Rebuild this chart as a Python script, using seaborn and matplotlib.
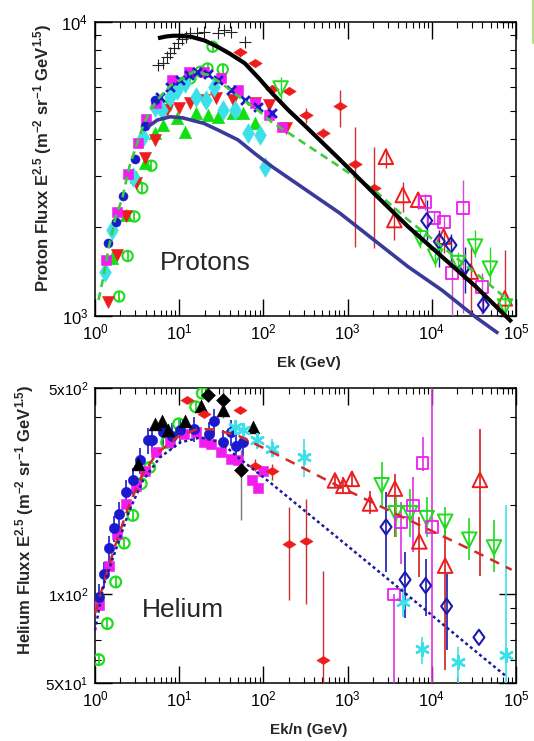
import numpy as np
import pandas as pd
import matplotlib
matplotlib.use("Agg")
import matplotlib.pyplot as plt
from matplotlib.path import Path
from matplotlib.lines import Line2D
from matplotlib.ticker import FixedLocator, FixedFormatter, LogLocator, NullFormatter
import seaborn as sns

# ---------------------------------------------------------------- data
XTICKS = [1, 10, 100, 1000, 10000, 100000]
XTICK_LABELS = [r"$10^{0}$", r"$10^{1}$", r"$10^{2}$", r"$10^{3}$", r"$10^{4}$", r"$10^{5}$"]
P_YTICKS = [1000, 10000]
P_YTICK_LABELS = [r"$10^{3}$", r"$10^{4}$"]
H_YTICKS = [50, 100, 500]
H_YTICK_LABELS = [r"5X10$^{1}$", r"1x10$^{2}$", r"5x10$^{2}$"]

# ---- Protons: model curves
p_black_x = [5.6, 7.0, 8.5, 10.3, 14, 20, 28.5, 40, 60, 90, 127, 200, 320, 813, 2057, 5210, 13200, 33400, 88900]
p_black_y = [8810, 8930, 8980, 8980, 8900, 8650, 8240, 7800, 7240, 6400, 5720, 5000, 4405, 3400, 2612, 2015, 1591, 1258, 955]
p_navy_x = [4.26, 5.5, 7.8, 11, 19.7, 30, 50, 80, 127, 320, 813, 2057, 5210, 13200, 33400, 61600]
p_navy_y = [4405, 4640, 4760, 4720, 4520, 4270, 3970, 3560, 3220, 2685, 2235, 1814, 1472, 1224, 990, 873]
p_gdash_x = [1.10, 1.215, 1.45, 1.76, 2.1, 2.56, 3.1, 3.7, 4.5, 5.9, 8, 10.3, 14.9, 22, 32, 50, 90, 127, 200, 813, 2057, 5210, 13200, 33400, 84600]
p_gdash_y = [1134, 1292, 1700, 2180, 2500, 3220, 3800, 4405, 5000, 5570, 6100, 6350, 6780, 6610, 6180, 5600, 4960, 4550, 4190, 3213, 2685, 2124, 1722, 1397, 1120]

# ---- Protons: measurements
p_plus_x = [5.6, 6.4, 7.1, 7.8, 8.6, 9.6, 10.8, 12.2, 13.6, 16.4, 19.7, 28.6, 34.5, 41.5, 60]
p_plus_y = [7140, 7230, 7620, 7820, 8130, 8460, 8730, 8910, 9140, 9140, 9270, 9140, 9390, 9270, 8570]

p_reddmd_x = [52.4, 79.6, 127, 201, 321, 510, 812, 1234, 2056]
p_reddmd_y = [7890, 7230, 5900, 5840, 4830, 4180, 5180, 3280, 2720]
p_reddmd_lo = [7620, 7050, 5650, 5690, 4520, 4020, 4400, 1722, 1700]
p_reddmd_hi = [8130, 7430, 6110, 5990, 5080, 4350, 5870, 4400, 3770]

p_redtri_x = [2845, 3590, 4530, 6880, 13800, 29000, 73600]
p_redtri_y = [3480, 2120, 2580, 2485, 1862, 1416, 1148]
p_redtri_lo = [3180, 1813, 2260, 2320, 1635, 990, 990]
p_redtri_hi = [3720, 2355, 2860, 2610, 2015, 1722, 1677]

p_magsq_x = [8280, 10700, 13800, 17200, 23700, 39100]
p_magsq_y = [2450, 2148, 2093, 1396, 2323, 1259]
p_magsq_lo = [2300, 2050, 1990, 990, 1023, 990]
p_magsq_hi = [2600, 2250, 2200, 1575, 2900, 1400]

p_bldmd_x = [8700, 12300, 16900, 24800, 40900]
p_bldmd_y = [2109, 1791, 1742, 1472, 1090]
p_bldmd_lo = [1815, 1470, 1540, 1200, 1030]
p_bldmd_hi = [2485, 1960, 1900, 1722, 1200]

p_grninv_x = [160, 7240, 11000, 20600, 32600, 49000, 74000]
p_grninv_y = [5940, 1837, 1592, 1513, 1722, 1449, 1077]
p_grninv_lo = [5430, 1700, 1472, 1400, 1592, 1291, 1021]
p_grninv_hi = [6480, 1980, 1722, 1650, 1960, 1720, 1195]

p_bcirc_x = [1.44, 1.76, 2.18, 2.99, 3.88, 5.13]
p_bcirc_y = [1770, 2095, 2565, 3420, 4440, 5430]
p_bx_x = [5.9, 7.8, 10.3, 13, 16.4, 21.7, 28.6, 41.5, 60, 87, 127]
p_bx_y = [5570, 6030, 6350, 6610, 6780, 6680, 6350, 5870, 5430, 5150, 4890]
p_mag_x = [1.36, 1.85, 2.49, 3.22, 4.07, 5.37, 8.17, 13.0, 19.7, 31.4, 50, 79.6, 115, 167]
p_mag_y = [1550, 2260, 3040, 3890, 4680, 5290, 6350, 6780, 6780, 6430, 5870, 5290, 4830, 4400]
p_cyan_x = [1.31, 1.61, 2.81, 3.71, 5.13, 6.18, 7.8, 9.39, 11.8, 15.7, 20.7, 26.1, 32.9, 45.6, 66.1, 91.5, 105]
p_cyan_y = [1415, 1960, 2980, 4075, 5150, 5020, 5570, 5870, 6180, 5570, 5430, 6030, 5020, 5020, 4180, 4130, 3220]
p_redinv_x = [1.44, 1.85, 2.33, 3.08, 3.88, 5.13, 7.1, 9.84, 13.6, 19.7, 27.3, 43.5, 79.6, 115, 184]
p_redinv_y = [1120, 1610, 2180, 2830, 3440, 3970, 5020, 5080, 5290, 5430, 5500, 5430, 5290, 5220, 4350]
p_gtri_x = [1.61, 2.33, 3.08, 3.88, 5.13, 6.47, 9.39, 11.8, 15.7, 21.7, 28.6, 43.5, 57.5, 79.6]
p_gtri_y = [1570, 2210, 2980, 3310, 4180, 4460, 4700, 4240, 4890, 4830, 4760, 4890, 4890, 4520]
p_gcirc_x = [1.94, 2.44, 2.94, 3.64, 4.68, 7.1, 10.3, 13.6, 18, 21.7, 32.9, 24.9]
p_gcirc_y = [1165, 1600, 2180, 2720, 3245, 5150, 6180, 6430, 6780, 6950, 6900, 8240]

# ---- Helium: model curves
h_rdash_x = [1.0, 1.33, 1.76, 2.56, 3.71, 5.37, 9.39, 16.4, 25, 50, 127, 813, 5210, 33400, 88700]
h_rdash_y = [86, 114, 148, 202, 256, 299, 340, 363, 362, 345, 303, 231, 179, 139, 121]
h_bdot_x = [1.0, 1.27, 1.76, 2.56, 3.71, 5.9, 10.3, 18, 31.4, 50, 127, 813, 5210, 13200, 33400, 77500]
h_bdot_y = [75.4, 108, 141, 192, 243, 291, 327, 340, 327, 291, 236, 153, 99, 79.5, 63.9, 52.5]

# ---- Helium: measurements
h_gcirc_x = [1.107, 1.40, 1.76, 2.22, 2.81, 3.54, 4.47, 7.1, 9.84, 15.7, 18.8]
h_gcirc_y = [60, 79.5, 110, 149, 185, 237, 269, 327, 378, 432, 480]
h_ktri_x = [3.22, 5.13, 6.18, 7.44, 11.8, 18, 32.9, 76]
h_ktri_y = [277, 378, 387, 359, 387, 436, 421, 368]
h_kdmd_x = [21.7, 32.9, 54.8]
h_kdmd_y = [474, 455, 264]
h_kdmd_lo = [455, 395, 178]
h_kdmd_hi = [495, 500, 307]
h_bcirc_x = [1.107, 1.27, 1.47, 1.68, 1.94, 2.33, 2.81, 3.38, 4.26, 4.76, 6.47, 8.17, 10.3, 14.9, 22.7, 26.1, 32.9, 41.5, 47.7, 57.5]
h_bcirc_y = [97.8, 117, 143, 167, 187, 222, 243, 284, 332, 332, 354, 345, 359, 363, 349, 387, 327, 354, 319, 327]
h_bcirc_lo = [88, 105, 128, 150, 168, 200, 219, 255, 298, 300, 318, 310, 323, 327, 314, 348, 294, 318, 287, 294]
h_bcirc_hi = [108, 129, 158, 184, 206, 244, 267, 312, 365, 365, 390, 380, 395, 400, 384, 426, 360, 390, 351, 360]
h_mag_x = [1.107, 1.47, 1.85, 2.33, 3.08, 3.88, 5.37, 7.8, 11.3, 15.7, 19.7, 23.8, 31.4, 41.5, 50, 72.5, 87.3, 100]
h_mag_y = [91.6, 125, 160, 202, 233, 262, 303, 327, 349, 354, 327, 323, 303, 288, 284, 243, 229, 262]
h_reddmd_x = [12.4, 19.7, 52.4, 79.6, 127, 201, 321, 510]
h_reddmd_y = [455, 408, 421, 273, 262, 148, 152, 60]
h_reddmd_lo = [445, 398, 411, 262, 243, 95.3, 92.9, 50]
h_reddmd_hi = [465, 418, 431, 288, 277, 197, 210, 120]
h_cyan_x = [45.6, 57.5, 83.4, 127, 306, 4590, 7590, 20300, 76000]
h_cyan_y = [368, 359, 332, 311, 291, 94.4, 65, 59, 62.2]
h_cyan_lo = [340, 340, 311, 291, 249, 83.8, 58.2, 50, 50]
h_cyan_hi = [387, 372, 349, 336, 336, 106, 71.6, 66.2, 200]
h_redtri_x = [707, 891, 1125, 1845, 3650, 7110, 14400, 37300]
h_redtri_y = [243, 233, 246, 203, 228, 151, 125, 244]
h_redtri_lo = [231, 220, 231, 187, 156, 114, 55.2, 115]
h_redtri_hi = [256, 250, 262, 224, 256, 182, 173, 363]
h_grninv_x = [2540, 3720, 5510, 8690, 14400, 27900, 54800]
h_grninv_y = [234, 188, 188, 181, 176, 153, 144]
h_grninv_lo = [197, 156, 156, 156, 156, 131, 119]
h_grninv_hi = [280, 213, 228, 213, 197, 181, 179]
h_magsq_x = [3560, 4310, 6030, 7770, 10100]
h_magsq_y = [99.9, 175, 200, 278, 169]
h_magsq_lo = [50, 127, 139, 262, 50]
h_magsq_hi = [100, 205, 250, 340, 500]
h_bldmd_x = [2860, 4810, 8450, 15000, 36300]
h_bldmd_y = [169, 112, 107, 91, 71.4]
h_bldmd_lo = [119, 82.8, 84.3, 64.7, 71.4]
h_bldmd_hi = [222, 139, 132, 117, 71.4]

# ---------------------------------------------------------------- style
sns.set_style("ticks")
plt.rcParams['font.family'] = ['Liberation Sans', 'DejaVu Sans']
plt.rcParams['mathtext.fontset'] = 'custom'
plt.rcParams['mathtext.rm'] = 'Liberation Sans'
plt.rcParams['mathtext.it'] = 'Liberation Sans:italic'
plt.rcParams['mathtext.bf'] = 'Liberation Sans:bold'

RED = "#ee1c1c"
MAG = "#f01cf0"
CYAN = "#3ce0e8"
GREEN = "#1fdc1f"
BLUE = "#1a1acc"
DBLUE = "#1a1ab0"
NAVY = "#3a3a9a"

WIDE_DMD = Path([(-1, 0), (0, 0.62), (1, 0), (0, -0.62), (-1, 0)], closed=True)
TALL_DMD = Path([(-0.72, 0), (0, 1), (0.72, 0), (0, -1), (-0.72, 0)], closed=True)

fig = plt.figure(figsize=(5.34, 7.41), dpi=100)
ax1 = fig.add_axes([95 / 534, 1 - 316 / 741, 421 / 534, 294 / 741])
ax2 = fig.add_axes([95 / 534, 1 - 683 / 741, 421 / 534, 295 / 741])
for ax in (ax1, ax2):
    ax.set_xscale('log')
    ax.set_yscale('log')


def curve(ax, x, y, color, lw, dashes=None, z=6):
    df = pd.DataFrame({"x": x, "y": y})
    sns.lineplot(data=df, x="x", y="y", ax=ax, color=color, lw=lw, sort=False,
                 estimator=None, zorder=z, clip_on=False, legend=False)
    line = ax.lines[-1]
    line.set_solid_capstyle('butt')
    if dashes is not None:
        line.set_dashes(dashes)
        line.set_dash_capstyle('butt')


def pts(ax, x, y, marker, color, s, open_=False, lw=1.2, z=4, line_marker=False):
    df = pd.DataFrame({"x": x, "y": y})
    if line_marker:
        sns.scatterplot(data=df, x="x", y="y", ax=ax, marker=marker, s=s, color=color,
                        edgecolor=None, linewidth=lw, zorder=z, legend=False, clip_on=True)
    elif open_:
        sns.scatterplot(data=df, x="x", y="y", ax=ax, marker=marker, s=s, color=color,
                        facecolor="none", edgecolor=color, linewidth=lw, zorder=z, legend=False)
    else:
        sns.scatterplot(data=df, x="x", y="y", ax=ax, marker=marker, s=s, color=color,
                        edgecolor=color, linewidth=0.4, zorder=z, legend=False)


def bars(ax, x, lo, hi, color, lw=1.0, z=3):
    ax.vlines(x, lo, hi, colors=color, lw=lw, zorder=z)


# ---------------------------------------------------------------- protons
bars(ax1, p_reddmd_x, p_reddmd_lo, p_reddmd_hi, "#d03030", 1.0)
bars(ax1, p_redtri_x, p_redtri_lo, p_redtri_hi, "#d03030", 1.0)
bars(ax1, p_magsq_x, p_magsq_lo, p_magsq_hi, "#d050d0", 1.0)
bars(ax1, p_bldmd_x, p_bldmd_lo, p_bldmd_hi, DBLUE, 1.0)
bars(ax1, p_grninv_x, p_grninv_lo, p_grninv_hi, GREEN, 1.0)

pts(ax1, p_plus_x, p_plus_y, '+', "#222222", 80, lw=0.8, line_marker=True)
pts(ax1, p_gcirc_x, p_gcirc_y, 'o', GREEN, 55, open_=True, lw=1.5)
pts(ax1, p_gcirc_x, p_gcirc_y, '|', GREEN, 50, lw=1.3, line_marker=True)
pts(ax1, p_gtri_x, p_gtri_y, '^', "#10e010", 80)
pts(ax1, p_redinv_x, p_redinv_y, 'v', RED, 75)
pts(ax1, p_cyan_x, p_cyan_y, 'd', CYAN, 100)
pts(ax1, p_mag_x, p_mag_y, 's', MAG, 48)
pts(ax1, p_bcirc_x, p_bcirc_y, 'o', BLUE, 42)
pts(ax1, p_bx_x, p_bx_y, 'x', BLUE, 40, lw=2.0, line_marker=True)
pts(ax1, p_reddmd_x, p_reddmd_y, WIDE_DMD, RED, 95)
pts(ax1, p_redtri_x, p_redtri_y, '^', RED, 110, open_=True, lw=1.4)
pts(ax1, p_magsq_x, p_magsq_y, 's', MAG, 75, open_=True, lw=1.3)
pts(ax1, p_bldmd_x, p_bldmd_y, TALL_DMD, DBLUE, 120, open_=True, lw=1.5)
pts(ax1, p_grninv_x, p_grninv_y, 'v', GREEN, 110, open_=True, lw=1.4)

curve(ax1, p_gdash_x, p_gdash_y, "#3ccc3c", 1.9, dashes=(3, 2), z=5)
curve(ax1, p_navy_x, p_navy_y, NAVY, 2.6, z=6)
curve(ax1, p_black_x, p_black_y, "black", 3.0, z=7)

# ---------------------------------------------------------------- helium
bars(ax2, h_bcirc_x, h_bcirc_lo, h_bcirc_hi, BLUE, 1.2)
bars(ax2, h_kdmd_x, h_kdmd_lo, h_kdmd_hi, "#777777", 1.0)
bars(ax2, h_reddmd_x, h_reddmd_lo, h_reddmd_hi, "#c83030", 1.0)
bars(ax2, h_cyan_x, h_cyan_lo, h_cyan_hi, CYAN, 1.2)
bars(ax2, h_redtri_x, h_redtri_lo, h_redtri_hi, "#d02020", 1.2)
bars(ax2, h_grninv_x, h_grninv_lo, h_grninv_hi, GREEN, 1.2)
bars(ax2, h_magsq_x, h_magsq_lo, h_magsq_hi, "#e030e0", 1.2)
bars(ax2, h_bldmd_x, h_bldmd_lo, h_bldmd_hi, DBLUE, 1.2)

pts(ax2, h_gcirc_x, h_gcirc_y, 'o', GREEN, 60, open_=True, lw=1.6)
pts(ax2, h_gcirc_x, h_gcirc_y, '|', GREEN, 50, lw=1.3, line_marker=True)
pts(ax2, h_mag_x, h_mag_y, 's', MAG, 55)
pts(ax2, h_bcirc_x, h_bcirc_y, 'o', BLUE, 55)
pts(ax2, h_ktri_x, h_ktri_y, '^', "black", 85)
pts(ax2, h_kdmd_x, h_kdmd_y, 'D', "black", 50)
pts(ax2, h_reddmd_x, h_reddmd_y, WIDE_DMD, RED, 90)
pts(ax2, h_cyan_x, h_cyan_y, (6, 2, 0), CYAN, 85, lw=1.8, line_marker=True)
pts(ax2, h_redtri_x, h_redtri_y, '^', RED, 110, open_=True, lw=1.4)
pts(ax2, h_grninv_x, h_grninv_y, 'v', GREEN, 110, open_=True, lw=1.4)
pts(ax2, h_magsq_x, h_magsq_y, 's', MAG, 70, open_=True, lw=1.3)
pts(ax2, h_bldmd_x, h_bldmd_y, TALL_DMD, DBLUE, 120, open_=True, lw=1.5)

curve(ax2, h_rdash_x, h_rdash_y, "#d42a2a", 1.8, dashes=(4, 3), z=5)
curve(ax2, h_bdot_x, h_bdot_y, "#1a1a9a", 1.8, dashes=(1.2, 1.2), z=5)

# ---------------------------------------------------------------- axes cosmetics
for ax in (ax1, ax2):
    ax.set_xlim(1, 1e5)
    ax.xaxis.set_major_locator(FixedLocator(XTICKS))
    ax.xaxis.set_major_formatter(FixedFormatter(XTICK_LABELS))
    ax.xaxis.set_minor_locator(LogLocator(base=10, subs=np.arange(2, 10), numticks=30))
    ax.xaxis.set_minor_formatter(NullFormatter())
    ax.yaxis.set_minor_locator(LogLocator(base=10, subs=np.arange(2, 10), numticks=30))
    ax.yaxis.set_minor_formatter(NullFormatter())
    ax.tick_params(which='major', direction='in', length=12.5, width=1.0, top=True, right=True,
                   labelsize=12, pad=5, colors='black')
    ax.tick_params(which='minor', direction='in', length=4.5, width=0.8, top=True, right=True,
                   colors='black')
    for sp in ax.spines.values():
        sp.set_linewidth(1.1)
        sp.set_color('black')
    ax.set_facecolor('white')

ax1.set_ylim(1000, 10000)
ax1.yaxis.set_major_locator(FixedLocator(P_YTICKS))
ax1.yaxis.set_major_formatter(FixedFormatter(P_YTICK_LABELS))
ax2.set_ylim(50, 500)
ax2.yaxis.set_major_locator(FixedLocator(H_YTICKS))
ax2.yaxis.set_major_formatter(FixedFormatter(H_YTICK_LABELS))
ax2.tick_params(axis='y', which='major', labelsize=11)

ax1.set_xlabel("Ek (GeV)", fontsize=11, fontweight='bold')
ax2.set_xlabel("Ek/n (GeV)", fontsize=11, fontweight='bold')
ax1.set_ylabel(r"Proton Fluxx E$^{\mathbf{2.5}}$ (m$^{\mathbf{-2}}$ sr$^{\mathbf{-1}}$ GeV$^{\mathbf{1.5}}$)",
               fontsize=12, fontweight='bold')
ax2.set_ylabel(r"Helium Fluxx E$^{\mathbf{2.5}}$ (m$^{\mathbf{-2}}$ sr$^{\mathbf{-1}}$ GeV$^{\mathbf{1.5}}$)",
               fontsize=12, fontweight='bold')
ax1.xaxis.set_label_coords(0.508, -0.136)
ax2.xaxis.set_label_coords(0.507, -0.136)
ax1.yaxis.set_label_coords(-0.097, 0.54)
ax2.yaxis.set_label_coords(-0.14, 0.553)

ax1.text(0.155, 0.156, "Protons", transform=ax1.transAxes, fontsize=19, va='baseline', zorder=10)
ax2.text(0.112, 0.224, "Helium", transform=ax2.transAxes, fontsize=19, va='baseline', zorder=10)

fig.add_artist(Line2D([532.5 / 534, 532.5 / 534], [1, 1 - 43 / 741], transform=fig.transFigure,
                      color="#b8dc8c", lw=1.5))

fig.savefig("out.png", dpi=100, facecolor='white')
